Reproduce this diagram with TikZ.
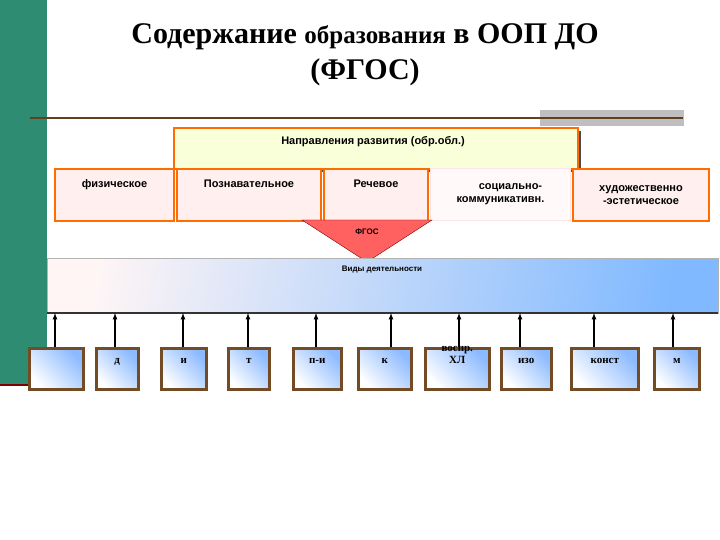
\documentclass[tikz,border=0pt]{standalone}
\usepackage{fontspec}
\setmainfont{Liberation Serif}
\newfontfamily\ars{Liberation Sans}
\begin{document}
\begin{tikzpicture}[x=1pt,y=-1pt,
 dir/.style={draw=orange!85!red,line width=2pt,fill=pink!25,font=\ars\bfseries\fontsize{11}{13}\selectfont,align=center,anchor=north west,inner sep=2pt},
 bot/.style={draw=brown!60!black,line width=2.5pt,left color=white,right color=cyan!40!blue!45,shading angle=135,font=\bfseries\fontsize{11}{12}\selectfont,align=center,anchor=north west,inner sep=1pt},
 arr/.style={-latex,line width=1.2pt,black}]
\useasboundingbox (0,0) rectangle (720,540);
\fill[teal!60!gray!90!green] (0,0) rectangle (47,385);
\draw[red!50!black,line width=2pt] (0,385) -- (47,385);
\fill[gray!50] (540,110) rectangle (684,126);
\draw[brown!50!black,line width=1.5pt] (30,118) -- (683,118);
\node[font=\bfseries\fontsize{30}{36}\selectfont,align=center] (title) at (365,55) {Содержание {\fontsize{25}{30}\selectfont образования} в ООП ДО\\(ФГОС)};
\fill[black!70] (177,131) rectangle (581,172);
\node[dir,fill=green!15!yellow!15,minimum width=404pt,minimum height=41pt,anchor=north west,inner sep=0pt] (nap) at (173,127) {};
\node[font=\ars\bfseries\fontsize{11}{13}\selectfont] (napt) at (373,142) {Направления развития (обр.обл.)};
\node[dir,minimum width=119pt,minimum height=52pt,text height=16pt,text depth=30pt] (f) at (54,168) {физическое};
\node[dir,minimum width=144pt,minimum height=52pt,text height=16pt,text depth=30pt] (p) at (176,168) {Познавательное};
\node[dir,minimum width=104pt,minimum height=52pt,text height=16pt,text depth=30pt] (r) at (323,168) {Речевое};
\node[draw=pink!40,line width=1pt,fill=pink!10,minimum width=140pt,minimum height=52pt,anchor=north west,font=\ars\bfseries\fontsize{11}{13}\selectfont,align=center] (s) at (430,168) {\hspace*{20pt}социально-\\коммуникативн.};
\node[dir,minimum width=136pt,minimum height=52pt] (h) at (572,168) {художественно\\-эстетическое};
\fill[red!50!pink,draw=red!50!black] (302,220) -- (432,220) -- (367,262) -- cycle;
\node[font=\ars\bfseries\fontsize{8}{9}\selectfont] (fg) at (367,232) {ФГОС};
\node[draw=gray!60,line width=0.8pt,left color=pink!15,right color=cyan!45!blue!50,shading angle=80,minimum width=671pt,minimum height=55pt,anchor=north west,inner sep=0pt] (vid) at (47,258) {};
\draw[black!80,line width=2pt] (47,313) -- (718,313);
\node[font=\ars\bfseries\fontsize{8}{9}\selectfont] (vidt) at (382,270) {Виды деятельности};
\foreach \n/\x/\w/\t in {b1/28/54/{},b2/95/42/д,b3/160/45/и,b4/227/41/т,b5/292/48/п-и,b6/357/53/к,b7/424/64/{воспр.\\ХЛ},b8/500/50/изо,b9/570/67/конст,b10/653/45/м}
 \node[bot,minimum width=\w pt,minimum height=41pt,text height=10pt,text depth=20pt] (\n) at (\x,347) {\t};
\foreach \n/\x in {b1/55,b2/115,b3/183,b4/248,b5/316,b6/391,b7/459,b8/520,b9/594,b10/673}{
 \coordinate (t\n) at (\x,313);
 \draw[arr] (\n.north -| t\n) -- (t\n);}
\end{tikzpicture}
\end{document}
